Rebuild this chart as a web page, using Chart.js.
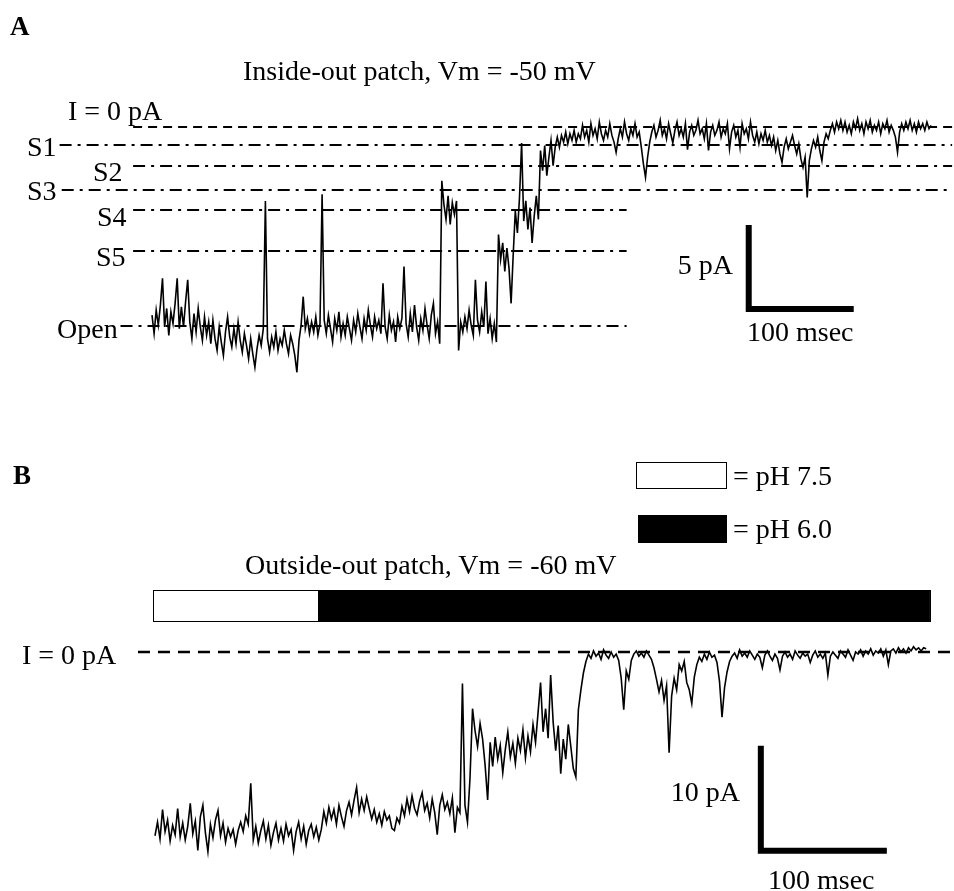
<!DOCTYPE html>
<html><head><meta charset="utf-8">
<script src="https://cdn.jsdelivr.net/npm/chart.js@4.4.1/dist/chart.umd.min.js"></script>
<style>
html,body{margin:0;padding:0;background:#fff;}
#wrap{position:relative;width:954px;height:891px;overflow:hidden;background:#fff;font-family:"Liberation Serif","Times New Roman",serif;color:#000;}
canvas{position:absolute;left:0;}
.t{position:absolute;font-size:28px;line-height:28px;white-space:nowrap;transform:translateY(-50%);}
.r{transform:translate(-100%,-50%);}
.b{font-weight:bold;font-size:27px;}
.box{position:absolute;box-sizing:border-box;border:1px solid #000;}
</style></head><body>
<div id="wrap">
<canvas id="cA" width="954" height="400" style="top:0;width:954px;height:400px"></canvas>
<canvas id="cB" width="954" height="451" style="top:440px;width:954px;height:451px"></canvas>

<div class="t b" style="left:10px;top:26px">A</div>
<div class="t" style="left:243px;top:71px">Inside-out patch, Vm = -50 mV</div>
<div class="t" style="left:68px;top:111px">I = 0 pA</div>
<div class="t" style="left:27px;top:147px">S1</div>
<div class="t" style="left:93px;top:172px">S2</div>
<div class="t" style="left:27px;top:191px">S3</div>
<div class="t" style="left:97px;top:217px">S4</div>
<div class="t" style="left:96px;top:257px">S5</div>
<div class="t" style="left:57px;top:329px">Open</div>
<div class="t r" style="left:733px;top:265px">5 pA</div>
<div class="t" style="left:747px;top:332px">100 msec</div>

<div class="t b" style="left:13px;top:475px">B</div>
<div class="box" style="left:636px;top:462px;width:91px;height:27px;background:#fff"></div>
<div class="t" style="left:733px;top:476px">= pH 7.5</div>
<div class="box" style="left:638px;top:515px;width:89px;height:28px;background:#000"></div>
<div class="t" style="left:733px;top:529px">= pH 6.0</div>
<div class="t" style="left:245px;top:565px">Outside-out patch, Vm = -60 mV</div>
<div class="t" style="left:22px;top:655px">I = 0 pA</div>
<div class="t r" style="left:740px;top:792px">10 pA</div>
<div class="t" style="left:768px;top:880px">100 msec</div>
</div>
<script>
// ---------- data (currents in pA, sampled every 2 ms) ----------
const sampleIntervalMs = 2;

const traceA = [
-11.2,-12.3,-10.9,-11.8,-10.6,-9.0,-11.9,-10.8,-12.4,-11.0,
-11.7,-10.5,-9.0,-12.0,-10.7,-11.9,-10.4,-9.1,-11.6,-12.6,
-11.1,-12.2,-10.8,-11.9,-12.7,-11.3,-12.4,-11.6,-12.9,-11.5,
-12.6,-13.3,-11.9,-12.8,-13.6,-12.2,-11.3,-12.5,-13.1,-12.0,
-12.9,-11.6,-12.7,-13.4,-12.3,-13.0,-13.8,-12.6,-13.5,-14.3,
-13.2,-12.4,-13.0,-12.0,-4.4,-12.6,-13.4,-12.5,-13.1,-12.2,
-13.3,-12.6,-13.0,-12.1,-12.9,-13.5,-12.4,-12.9,-13.6,-14.6,
-12.7,-11.8,-10.1,-12.0,-11.4,-12.3,-11.6,-12.2,-11.3,-12.4,
-11.7,-4.0,-11.5,-12.3,-11.2,-12.0,-12.8,-11.4,-12.1,-11.0,
-12.5,-11.7,-12.4,-11.3,-12.0,-12.7,-11.5,-12.2,-11.1,-11.9,
-12.6,-11.4,-12.1,-10.9,-11.8,-12.5,-11.3,-12.0,-11.5,-12.3,
-9.3,-11.9,-12.6,-11.2,-12.1,-11.6,-12.8,-11.3,-12.0,-11.4,
-8.3,-11.7,-12.5,-11.1,-12.2,-10.6,-11.9,-12.7,-11.4,-12.1,
-10.8,-11.8,-12.6,-11.2,-10.5,-12.3,-11.6,-12.9,-3.2,-4.6,
-5.5,-4.1,-5.8,-4.5,-5.2,-4.4,-13.3,-11.6,-12.2,-11.3,
-12.0,-10.9,-11.8,-12.4,-9.1,-11.5,-12.2,-11.0,-11.9,-9.2,
-12.3,-11.4,-12.6,-11.7,-12.8,-6.4,-7.9,-6.9,-8.6,-7.2,
-8.4,-10.5,-7.6,-5.0,-6.3,-4.2,-0.95,-5.6,-4.4,-6.1,
-4.8,-6.9,-5.3,-4.1,-5.5,-1.4,-2.6,-1.1,-2.9,-1.8,
-0.8,-2.3,-1.2,-0.6,-1.2,-0.5,-0.9,-0.3,-1.0,-0.4,
-0.8,-0.2,-0.9,-0.4,-0.7,0.1,-0.6,-0.2,-0.9,0.2,
-0.5,-0.1,-0.7,0.3,-0.4,-0.8,-0.2,-0.6,0.2,-0.5,
-0.9,-1.5,-0.7,-0.1,-0.6,0.3,-0.4,-0.8,-0.1,-0.5,
0.2,-0.6,-0.3,-1.2,-2.2,-3.0,-1.8,-0.9,-0.3,0.1,
-0.6,-0.2,0.4,-0.5,-0.1,-0.7,0.2,-0.4,-0.95,-0.2,
0.3,-0.5,-0.1,-0.6,0.2,-1.35,-0.3,0.1,-0.5,-0.2,
0.4,-0.4,-0.1,-0.7,0.2,-1.4,-0.3,0.1,-0.5,-0.2,
0.3,-0.6,-0.1,-0.4,0.2,-1.3,-0.3,0.1,-0.6,-0.2,
-1.2,0.2,-0.4,-0.1,-0.7,0.3,-0.5,-0.9,-0.3,-1.0,
-0.4,-0.8,-0.2,-0.9,-0.5,-1.1,-0.6,-1.4,-0.8,-1.6,
-2.1,-1.2,-0.7,-1.3,-0.9,-0.5,-1.1,-1.6,-1.0,-1.9,
-2.4,-1.8,-4.2,-2.0,-1.3,-0.8,-1.2,-0.6,-1.4,-2.0,
-0.9,-0.4,-0.7,-0.2,0.2,-0.3,0.3,-0.1,0.4,-0.2,
0.3,-0.3,0.1,-0.4,0.3,-0.1,0.5,-0.2,0.2,-0.4,
0.3,-0.1,0.4,-0.3,0.1,-0.2,0.3,-0.4,0.2,-0.1,
0.4,-0.3,0.1,-0.2,-0.6,-1.5,-0.3,0.2,-0.2,0.3,
-0.1,0.4,-0.2,0.2,-0.3,0.3,-0.1,0.2,-0.2,0.3,
-0.1,0.1
];

const traceB = [
-17.5,-16.2,-17.8,-15.0,-17.1,-16.0,-18.0,-16.5,-17.4,-14.9,
-17.6,-16.3,-17.9,-16.6,-14.4,-17.3,-16.1,-18.9,-15.7,-14.6,
-17.2,-19.0,-16.4,-17.7,-16.0,-15.1,-17.5,-16.3,-18.1,-16.8,
-17.6,-16.9,-18.3,-17.0,-16.2,-17.1,-15.6,-16.4,-12.5,-17.9,
-16.6,-18.2,-17.0,-16.1,-17.8,-16.5,-18.4,-17.2,-16.3,-17.9,
-16.8,-18.0,-16.4,-17.5,-16.9,-18.9,-17.1,-16.2,-17.8,-16.6,
-18.3,-17.0,-16.4,-17.6,-16.7,-17.9,-16.9,-15.2,-16.3,-14.8,
-15.9,-15.0,-16.4,-14.6,-15.7,-16.6,-15.1,-14.3,-15.5,-14.1,
-12.9,-15.3,-14.0,-15.1,-13.8,-14.9,-15.9,-15.0,-16.2,-15.4,
-16.5,-15.2,-16.0,-15.6,-16.8,-17.0,-15.8,-16.3,-14.7,-15.6,
-14.0,-15.2,-13.7,-14.9,-15.5,-14.2,-13.4,-15.1,-14.4,-15.8,
-14.0,-15.3,-17.4,-14.6,-13.6,-15.0,-14.3,-15.4,-13.9,-17.2,
-14.8,-15.3,-3.0,-14.6,-16.2,-12.0,-5.4,-7.5,-9.0,-6.8,
-8.3,-10.8,-14.1,-8.6,-10.9,-8.1,-10.2,-8.9,-11.5,-9.3,
-7.6,-10.0,-8.7,-10.6,-8.2,-9.4,-7.4,-10.1,-8.0,-9.5,
-6.9,-8.6,-5.8,-2.9,-7.6,-5.4,-8.2,-2.2,-6.7,-9.4,
-7.0,-11.6,-8.3,-10.2,-6.9,-9.0,-11.1,-11.9,-5.5,-3.6,
-2.0,-0.9,-0.2,-0.6,0.1,-0.4,-0.1,-0.7,0.2,-0.3,
-0.6,0.0,-0.5,-0.2,-0.8,-2.5,-5.5,-1.8,-2.6,-0.8,
-0.2,0.1,-0.4,-0.1,-0.5,0.1,-0.3,-0.7,-1.5,-2.6,
-3.8,-2.7,-4.6,-3.2,-9.6,-4.2,-2.5,-3.6,-1.2,-1.8,
-0.9,-2.9,-3.6,-4.9,-2.4,-1.2,-0.5,-0.9,-0.2,-0.7,
0.0,-0.5,-0.3,-1.0,-2.8,-6.2,-3.4,-1.9,-0.9,-0.4,
-0.1,-0.6,0.2,-0.4,-0.1,-0.5,0.1,-0.3,-0.7,-0.2,
-0.5,-1.5,-0.3,0.1,-0.4,-0.8,-0.2,-0.6,-1.7,-0.4,
0.0,-0.5,-0.2,-0.7,0.1,-0.3,-0.6,-0.1,-0.4,-0.2,
-1.0,-0.3,0.1,-0.5,-0.2,-0.6,-0.1,-2.2,-0.4,0.0,
-0.3,-0.6,0.1,-0.2,-0.5,0.2,-0.3,-0.8,0.0,-0.2,
0.2,-0.4,0.1,-0.2,0.3,-0.3,0.1,-0.1,0.3,-0.4,
0.2,-1.2,0.1,0.3,-0.1,0.4,0.0,0.3,-0.1,0.4,
0.1,0.5,0.2,0.4,0.1,0.4,0.3
];

// subconductance levels of panel A (pA)
const levelLabelsA = ['I = 0 pA','S1','S2','S3','S4','S5','Open'];
const levelCurrentsA = [0, -1.07, -2.32, -3.75, -4.94, -7.38, -11.85];
// zero-current level of panel B (pA)
const zeroCurrentB = 0;
// pH application in panel B: segment boundaries (ms) and pH
const phBoundariesB = [-1.6, 129.4, 615];
const phValuesB = ['7.5', '6.0'];
// scale bars
const scaleBarA = {ms: 100, pA: 5};
const scaleBarB = {ms: 100, pA: 10};

// ---------- layout / style ----------
const DASH = [9, 6];
const DASHDOT = [12, 6, 3, 6];
const levelSpanA = [[-18, 762], [-88, 762], [-18, 762], [-86, 762], [-18, 452], [-18, 452], [-30, 452]];
const scaleBarPosA = {t: 568.3, i: -10.83};
const scaleBarPosB = {t: 480.8, i: -18.92};

function toPoints(arr){ return arr.map((v, k) => ({x: k * sampleIntervalMs, y: v})); }

function opts(xmin, xmax, ymin, ymax){
  return {
    responsive: false, animation: false, events: [],
    layout: {padding: 0},
    plugins: {legend: {display: false}, tooltip: {enabled: false}, title: {display: false}},
    elements: {point: {radius: 0}, line: {tension: 0, borderCapStyle: 'butt'}},
    scales: {
      x: {type: 'linear', display: false, min: xmin, max: xmax},
      y: {type: 'linear', display: false, min: ymin, max: ymax}
    }
  };
}

function bar(pos, sb){
  return {
    data: [{x: pos.t, y: pos.i + sb.pA}, {x: pos.t, y: pos.i}, {x: pos.t + sb.ms, y: pos.i}],
    borderColor: '#000', borderWidth: 6, borderJoinStyle: 'miter', borderCapStyle: 'butt', fill: false
  };
}

// ---------- Panel A ----------
const dsA = [{
  data: toPoints(traceA), borderColor: '#000', borderWidth: 1.6, fill: false
}];
levelCurrentsA.forEach((v, k) => {
  dsA.push({
    label: levelLabelsA[k],
    data: [{x: levelSpanA[k][0], y: v}, {x: levelSpanA[k][1], y: v}],
    borderColor: '#000', borderWidth: 2, borderDash: k === 0 ? DASH : DASHDOT, fill: false
  });
});
dsA.push(bar(scaleBarPosA, scaleBarA));

new Chart(document.getElementById('cA'), {
  type: 'line',
  data: {datasets: dsA},
  options: opts(-144.76, 763.8, -16.25, 7.56)
});

// ---------- Panel B ----------
const stimPlugin = {
  id: 'stim',
  beforeDatasetsDraw(chart){
    const {ctx, scales: {x, y}} = chart;
    const top = y.getPixelForValue(5.9), bot = y.getPixelForValue(2.95);
    ctx.save();
    for (let k = 0; k < phValuesB.length; k++){
      const x0 = x.getPixelForValue(phBoundariesB[k]), x1 = x.getPixelForValue(phBoundariesB[k + 1]);
      ctx.fillStyle = phValuesB[k] === '7.5' ? '#fff' : '#000';
      ctx.fillRect(x0, top, x1 - x0, bot - top);
      ctx.strokeStyle = '#000'; ctx.lineWidth = 1;
      ctx.strokeRect(Math.round(x0) + 0.5, Math.round(top) + 0.5, Math.round(x1 - x0), Math.round(bot - top));
    }
    ctx.restore();
  }
};

const dsB = [
  {data: toPoints(traceB), borderColor: '#000', borderWidth: 1.6, fill: false},
  {label: 'I = 0 pA', data: [{x: -13.5, y: zeroCurrentB}, {x: 634, y: zeroCurrentB}],
   borderColor: '#000', borderWidth: 2.5, borderDash: [12, 8], fill: false},
  bar(scaleBarPosB, scaleBarB)
];

new Chart(document.getElementById('cB'), {
  type: 'line',
  data: {datasets: dsB},
  options: opts(-123.0, 634.1, -22.76, 20.19),
  plugins: [stimPlugin]
});
</script>
</body></html>
